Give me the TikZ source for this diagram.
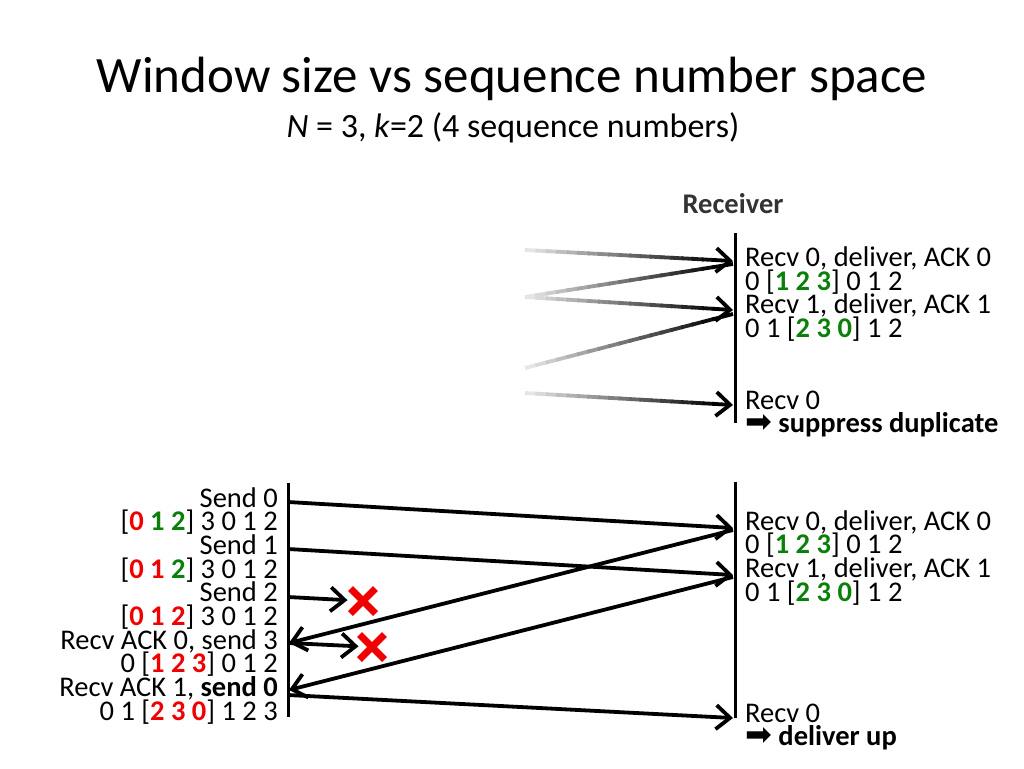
\documentclass[tikz,border=0pt]{standalone}
\usepackage{fontspec}
\setmainfont{Carlito}
\newfontfamily\symfont{DejaVu Sans}
\usepackage{xcolor}
\usepackage{tikz}
\usetikzlibrary{positioning, shapes.misc}
\usetikzlibrary{arrows.meta, calc}
\definecolor{lostred}{RGB}{240,0,0}
\definecolor{wingreen}{RGB}{10,128,10}
\newcommand{\rd}[1]{\textbf{\color{lostred}#1}}
\newcommand{\gr}[1]{\textbf{\color{wingreen}#1}}
\newcommand{\goesto}{{\symfont\fontsize{32}{23.7}\selectfont ➡}}

\begin{document}
\begin{tikzpicture}[x=1pt,y=-1pt]
            \tikzset{arr/.style = {line width=3.8pt,-{Straight Barb[length=14pt,width=24pt]}}}
            \tikzset{bare/.style = {line width=3.8pt}}
            \tikzset{life/.style = {line width=3pt}}
            \tikzset{body/.style = {inner sep=0pt,text height=15pt,text depth=5pt,font=\fontsize{28.5}{23.7}\selectfont}}
            \tikzset{sndtxt/.style = {body,anchor=base east}}
            \tikzset{rcvtxt/.style = {body,anchor=base west}}
            \tikzset{lost/.style = {cross out,draw=lostred,line width=7pt,minimum size=18pt,inner sep=0pt}}

            \fill[white] (0,0) rectangle (1024,768);
            \useasboundingbox (0,0) rectangle (1024,768);

            % title
            \node[inner sep=0pt,anchor=base,font=\fontsize{51}{60}\selectfont] (title) at (512,92)
                {Window size vs sequence number space};
            \node[inner sep=0pt,anchor=base,font=\fontsize{34}{36}\selectfont] (subtitle) at (513,137)
                {\textit{N} = 3, \textit{k}=2 (4 sequence numbers)};

            % faded receiver
            \node[inner sep=0pt,anchor=base,font=\bfseries\fontsize{28.5}{24}\selectfont,text=black!80] (rcvlabel) at (733,213) {Receiver};
            \coordinate (ttop) at (735,233);
            \coordinate (tbot) at (735,423);
            \draw[life] (ttop) -- (tbot);

            \coordinate (f1) at (525,250);
            \coordinate (f2) at (525,297);
            \coordinate (f3) at (525,368);
            \coordinate (f4) at (525,393);
            \coordinate (g1) at (733,261);
            \coordinate (g2) at (733,264);
            \coordinate (g3) at (733,310);
            \coordinate (g4) at (733,314);
            \coordinate (g5) at (733,405);

            \foreach \from/\to/\tipstyle in {f1/g1/arr, f2/g2/bare, f2/g3/arr, f3/g4/bare, f4/g5/arr} {
                \foreach \i in {0,...,17} {
                    \pgfmathtruncatemacro\dark{10+\i*5}
                    \draw[bare,black!\dark] ($(\from)!\i/20!(\to)$) -- ($(\from)!\i/20+0.06!(\to)$);
                }
                \draw[\tipstyle] ($(\from)!0.9!(\to)$) -- (\to);
            }

            \foreach \t [count=\i] in {Recv 0{,} deliver{,} ACK 0, 0 [\gr{1 2 3}] 0 1 2,
                    Recv 1{,} deliver{,} ACK 1, 0 1 [\gr{2 3 0}] 1 2}
                \node[rcvtxt] (trcv\i) at (745,242.8+\i*23.7) {\t};
            \node[rcvtxt] (trcv5) at (745,409) {Recv 0};
            \node[rcvtxt] (trcv6) at (745,432.7) {\goesto\ \textbf{suppress duplicate}};

            % sender
            \coordinate (stop) at (288,483);
            \coordinate (sbot) at (288,717);
            \draw[life] (stop) -- (sbot);
            \foreach \t [count=\i] in {Send 0, [\rd{0} \gr{1} \gr{2}] 3 0 1 2,
                    Send 1, [\rd{0} \rd{1} \gr{2}] 3 0 1 2,
                    Send 2, [\rd{0 1 2}] 3 0 1 2,
                    Recv ACK 0{,} send 3, 0 [\rd{1 2 3}] 0 1 2,
                    Recv ACK 1{,} \textbf{send 0}, 0 1 [\rd{2 3 0}] 1 2 3}
                \node[sndtxt] (snd\i) at (278,483.3+\i*23.7) {\t};

            % receiver
            \coordinate (rtop) at (735,482);
            \coordinate (rbot) at (735,718);
            \draw[life] (rtop) -- (rbot);
            \foreach \t [count=\i] in {Recv 0{,} deliver{,} ACK 0, 0 [\gr{1 2 3}] 0 1 2,
                    Recv 1{,} deliver{,} ACK 1, 0 1 [\gr{2 3 0}] 1 2}
                \node[rcvtxt] (rcv\i) at (745,506.3+\i*23.7) {\t};
            \node[rcvtxt] (rcv5) at (745,722) {Recv 0};
            \node[rcvtxt] (rcv6) at (745,745.7) {\goesto\ \textbf{deliver up}};

            % packets and acks
            \coordinate (s0) at (288,502);
            \coordinate (s1) at (288,549);
            \coordinate (s2) at (288,597);
            \coordinate (s3) at (289,643);
            \coordinate (s4) at (289,690);
            \coordinate (s5) at (288,695);
            \coordinate (r0) at (733,528);
            \coordinate (r1) at (733,575);
            \coordinate (r2) at (733,718);
            \coordinate (a0) at (733,530);
            \coordinate (a1) at (733,577);
            \node[lost] (lost2) at (363,601) {};
            \node[lost] (lost3) at (372,647) {};

            \draw[arr] (s0) -- (r0);
            \draw[arr] (s1) -- (r1);
            \draw[arr,shorten >=3pt] (s2) -- (lost2);
            \draw[arr] (a0) -- (s3);
            \draw[arr,shorten >=1pt] (s3) -- (lost3);
            \draw[arr] (a1) -- (s4);
            \draw[arr] (s5) -- (r2);
        \end{tikzpicture}
\end{document}
